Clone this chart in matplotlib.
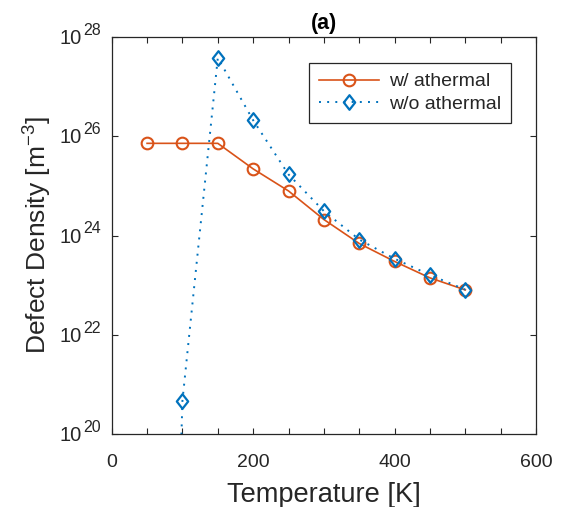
import matplotlib
matplotlib.use("Agg")
import matplotlib.pyplot as plt
from matplotlib.ticker import FixedLocator, MultipleLocator, NullFormatter
from matplotlib.path import Path

plt.rcParams['font.family'] = ['Liberation Sans', 'DejaVu Sans']
plt.rcParams['mathtext.fontset'] = 'custom'
plt.rcParams['mathtext.rm'] = 'Liberation Sans'
plt.rcParams['mathtext.it'] = 'Liberation Sans:italic'
plt.rcParams['mathtext.bf'] = 'Liberation Sans:bold'

# Data
temp_with = [50, 100, 150, 200, 250, 300, 350, 400, 450, 500]
dens_with = [7.2e25, 7.2e25, 7.2e25, 2.2e25, 7.9e24, 2.1e24, 6.9e23, 3.0e23, 1.4e23, 8.0e22]
temp_without = [50, 100, 150, 200, 250, 300, 350, 400, 450, 500]
dens_without = [1e-3, 4.7e20, 3.8e27, 2.1e26, 1.7e25, 3.1e24, 8.3e23, 3.4e23, 1.6e23, 8.1e22]
label_with = "w/ athermal"
label_without = "w/o athermal"
x_ticks = [0, 200, 400, 600]
y_exps = [20, 22, 24, 26, 28]

orange = '#D95319'
blue = '#0072BD'
gray = '#262626'

diamond = Path([(0, 1), (0.78, 0), (0, -1), (-0.78, 0), (0, 1)],
               [Path.MOVETO, Path.LINETO, Path.LINETO, Path.LINETO, Path.CLOSEPOLY])

fig = plt.figure(figsize=(5.62, 5.07), dpi=100)
ax = fig.add_axes([0.1988, 0.144, 0.755, 0.783])

ax.plot(temp_with, dens_with, '-o', color=orange, lw=1.2, ms=8.4,
        mfc='none', mew=1.5, label=label_with)
ax.plot(temp_without, dens_without, linestyle=(0, (1, 3.2)), marker=diamond, color=blue,
        lw=1.4, ms=10.5, mfc='none', mew=1.6, label=label_without)

ax.set_yscale('log')
ax.set_xlim(0, 600)
ax.set_ylim(1e20, 1e28)

ax.xaxis.set_major_locator(FixedLocator(x_ticks))
ax.xaxis.set_minor_locator(MultipleLocator(50))
ax.yaxis.set_major_locator(FixedLocator([10.0**e for e in y_exps]))
ax.yaxis.set_major_formatter(NullFormatter())
ax.yaxis.set_minor_locator(FixedLocator([]))

ax.tick_params(which='both', direction='in', top=True, right=True,
               color=gray, labelcolor=gray, width=0.8)
ax.tick_params(which='major', length=4, labelsize=14)
ax.tick_params(axis='x', which='major', pad=14.5)
ax.tick_params(which='minor', length=4)
for s in ax.spines.values():
    s.set_color(gray)
    s.set_linewidth(0.9)

# y tick labels as base + superscript
for e in y_exps:
    ax.annotate('10', xy=(0, 10.0**e), xycoords=('axes fraction', 'data'),
                xytext=(-21.5, -1.2), textcoords='offset points',
                ha='right', va='center', fontsize=14.5, color=gray)
    ax.annotate(str(e), xy=(0, 10.0**e), xycoords=('axes fraction', 'data'),
                xytext=(-20.5, 4.8), textcoords='offset points',
                ha='left', va='center', fontsize=11.5, color=gray)

ax.set_xlabel('Temperature [K]', fontsize=19.6, color=gray, labelpad=8)
ax.set_ylabel(r'Defect Density [m$^{-3}$]', fontsize=19, color=gray, labelpad=38)
ax.set_title('(a)', fontsize=15.5, fontweight='bold', pad=6)

leg = ax.legend(loc='upper right', bbox_to_anchor=(0.941, 0.9345), borderaxespad=0,
                fancybox=False, framealpha=1, edgecolor=gray, fontsize=14,
                handlelength=3.1, handletextpad=0.5, labelspacing=0.25,
                borderpad=0.5)
leg.get_frame().set_linewidth(0.9)
for t in leg.get_texts():
    t.set_color(gray)

fig.savefig('out.png', dpi=100)
